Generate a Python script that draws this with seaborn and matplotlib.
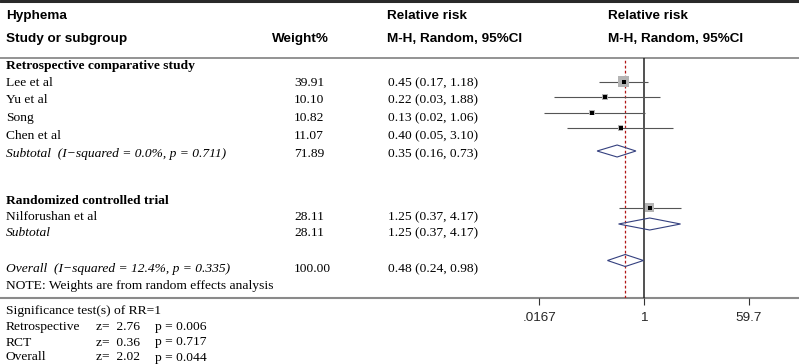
import matplotlib
matplotlib.use("Agg")
import matplotlib.pyplot as plt
from matplotlib.patches import Polygon
import pandas as pd
import seaborn as sns

# study level data (relative risk, 95% CI, weight %)
studies = ["Lee et al", "Yu et al", "Song", "Chen et al", "Nilforushan et al"]
weights = [39.91, 10.10, 10.82, 11.07, 28.11]
rr = [0.45, 0.22, 0.13, 0.40, 1.25]
rr_lo = [0.17, 0.03, 0.02, 0.05, 0.37]
rr_hi = [1.18, 1.88, 1.06, 3.10, 4.17]

# pooled estimates
pooled_labels = ["Subtotal  (I\u2212squared = 0.0%, p = 0.711)", "Subtotal",
                 "Overall  (I\u2212squared = 12.4%, p = 0.335)"]
pooled_weights = [71.89, 28.11, 100.00]
pooled_rr = [0.35, 1.25, 0.48]
pooled_lo = [0.16, 0.37, 0.24]
pooled_hi = [0.73, 4.17, 0.98]

groups = ["Retrospective comparative study", "Randomized controlled trial"]

sig_labels = ["Retrospective", "RCT", "Overall"]
sig_z = [2.76, 0.36, 2.02]
sig_p = [0.006, 0.717, 0.044]

tick_vals = [1 / 59.7, 1, 59.7]
tick_labels = [".0167", "1", "59.7"]

# layout (pixel rows)
W, H = 799, 364
text_y_study = [83, 100, 118, 136, 217]
text_y_pooled = [154, 233, 269]
text_y_group = [66, 201]
mark_y_study = [81.5, 97, 112.5, 128, 207.5]
mark_y_pooled = [151, 224, 260.5]
axis_y, head_y = 298, 57.5
px_per_dec = 58.94
x_one = 644.0
x_ax0 = 500

sns.set_theme(style="white")
serif = "Liberation Serif"
sans = "Liberation Sans"
fs = 9.7

fig = plt.figure(figsize=(W / 100, H / 100), dpi=100)
tab = fig.add_axes([0, 0, 1, 1])
tab.set_xlim(0, W)
tab.set_ylim(H, 0)
tab.axis("off")

# rules
tab.plot([0, W], [1, 1], color="#2a2a2a", lw=2.2)
tab.plot([0, W], [head_y, head_y], color="#8a8a8a", lw=1.3)
tab.plot([0, W], [axis_y, axis_y], color="#8a8a8a", lw=1.5)

# header
hd = dict(family=sans, fontweight="bold", fontsize=fs, va="center", color="black")
tab.text(6, 16, "Hyphema", **hd)
tab.text(6, 39, "Study or subgroup", **hd)
tab.text(329, 39, "Weight%", ha="right", **hd)
tab.text(387, 16, "Relative risk", **hd)
tab.text(387, 39, "M-H, Random, 95%CI", **hd)
tab.text(608, 16, "Relative risk", **hd)
tab.text(608, 39, "M-H, Random, 95%CI", **hd)

body = dict(family=serif, fontsize=fs, va="center", color="black")
for g, y in zip(groups, text_y_group):
    tab.text(6, y, g, fontweight="bold", **body)
for name, w, r, lo, hi, y in zip(studies, weights, rr, rr_lo, rr_hi, text_y_study):
    tab.text(6, y, name, **body)
    tab.text(294, y, f"{w:.2f}", **body)
    tab.text(388, y, f"{r:.2f} ({lo:.2f}, {hi:.2f})", **body)
for name, w, r, lo, hi, y in zip(pooled_labels, pooled_weights, pooled_rr, pooled_lo, pooled_hi, text_y_pooled):
    tab.text(6, y, name, style="italic", **body)
    tab.text(294, y, f"{w:.2f}", **body)
    tab.text(388, y, f"{r:.2f} ({lo:.2f}, {hi:.2f})", **body)
tab.text(6, 286, "NOTE: Weights are from random effects analysis", **body)

tab.text(6, 311, "Significance test(s) of RR=1", **body)
for lab, z, p, y in zip(sig_labels, sig_z, sig_p, [327, 342.5, 357.5]):
    tab.text(6, y, lab, **body)
    tab.text(96, y, f"z=  {z:.2f}", **body)
    tab.text(155, y, f"p = {p:.3f}", **body)

# forest panel
ax = fig.add_axes([x_ax0 / W, (H - axis_y) / H, (W - x_ax0) / W, (axis_y - head_y) / H])
ax.patch.set_alpha(0)
ax.set_xscale("log")
ax.set_xlim(10 ** ((x_ax0 - x_one) / px_per_dec), 10 ** ((W - x_one) / px_per_dec))
ax.set_ylim(axis_y, head_y)
for s in ["top", "left", "right", "bottom"]:
    ax.spines[s].set_visible(False)
ax.set_yticks([])
ax.set_xticks(tick_vals)
ax.set_xticklabels(tick_labels, family=sans, fontsize=fs)
ax.xaxis.set_minor_locator(matplotlib.ticker.NullLocator())
ax.tick_params(axis="x", bottom=True, direction="out", length=5, width=0.8,
               color="#333333", pad=5)

ax.axvline(1, color="#222222", lw=1.1, zorder=1)
ax.axvline(pooled_rr[2], color="#b01515", lw=0.9, ls=(0, (2.2, 1.8)), zorder=1)

ax.hlines(mark_y_study, rr_lo, rr_hi, color="#555555", lw=0.8, zorder=2)

df = pd.DataFrame({"rr": rr, "y": mark_y_study, "w": weights})
sns.scatterplot(data=df, x="rr", y="y", size="w", sizes=(0, 62), size_norm=(0, 39.91),
                marker="s", color="#b4b4b4", linewidth=0, legend=False, ax=ax, zorder=3)
sns.scatterplot(data=df, x="rr", y="y", marker="s", s=6, color="black",
                linewidth=0, legend=False, ax=ax, zorder=4)

for r, lo, hi, y in zip(pooled_rr, pooled_lo, pooled_hi, mark_y_pooled):
    ax.add_patch(Polygon([(lo, y), (r, y - 6), (hi, y), (r, y + 6)], closed=True,
                         fill=False, edgecolor="#34407f", lw=0.8, zorder=3))

ax.set_xlabel("")
ax.set_ylabel("")
fig.savefig("out.png", dpi=100)
